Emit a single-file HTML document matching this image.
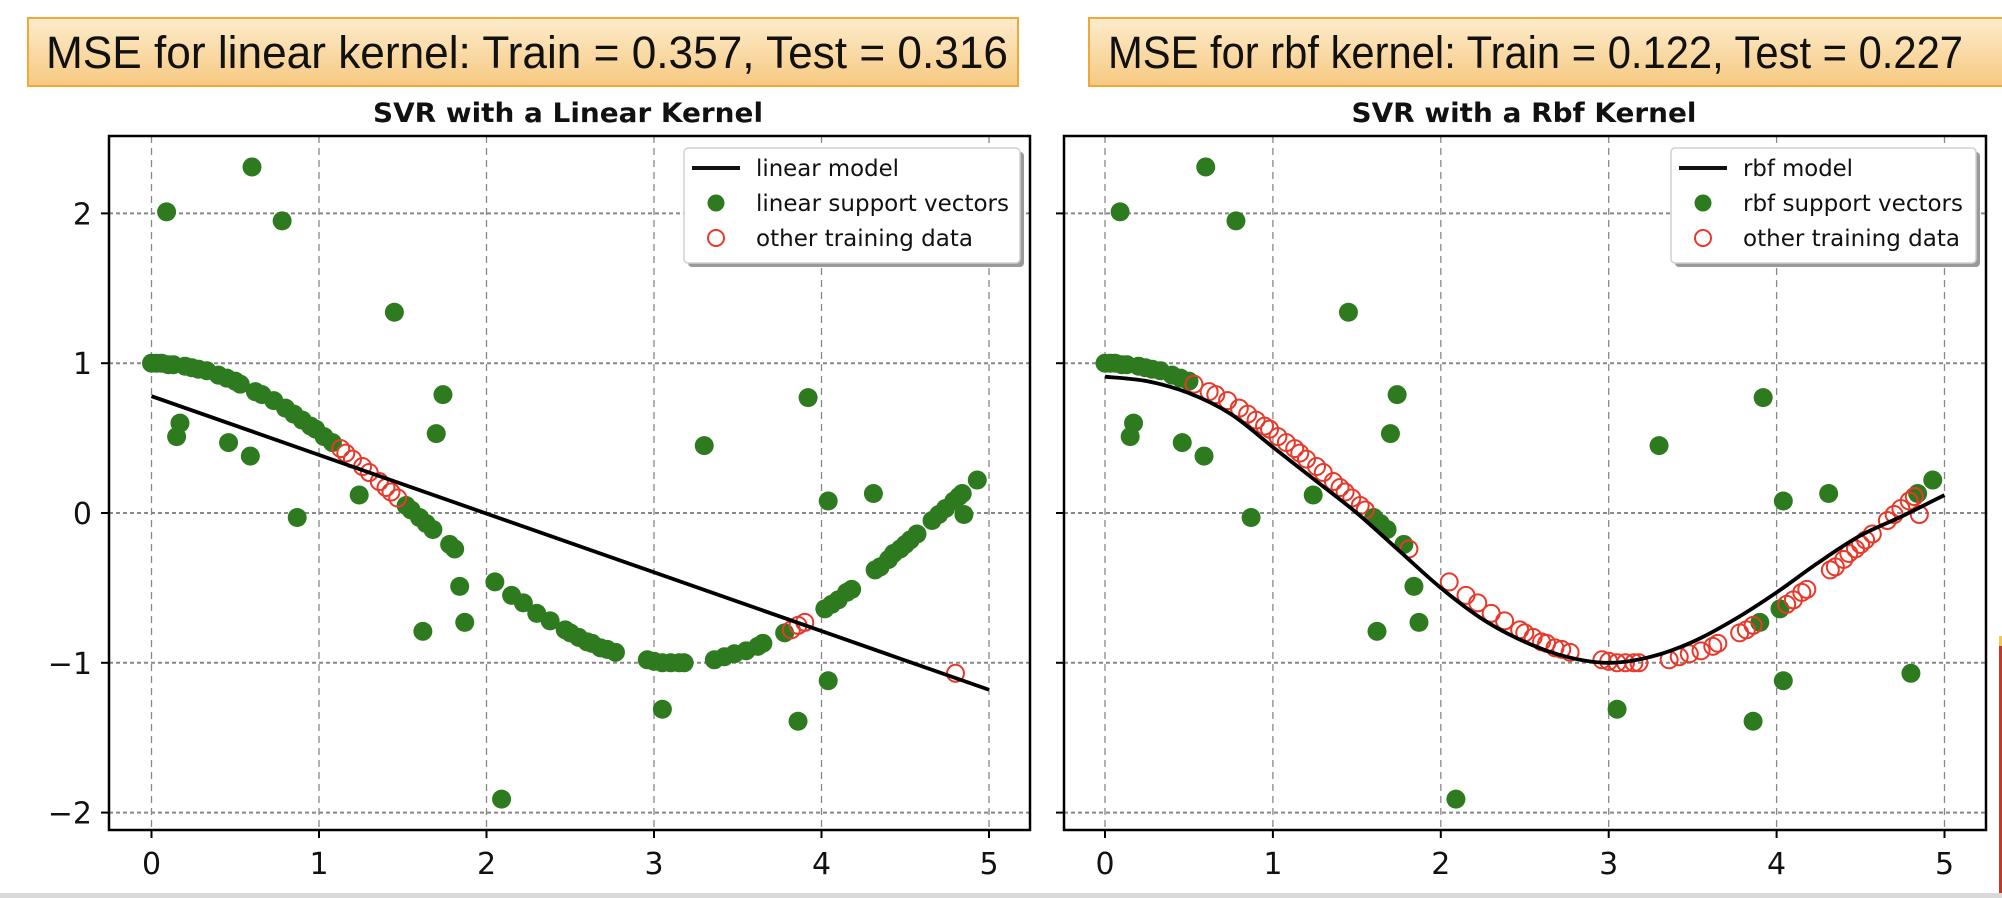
<!DOCTYPE html>
<html><head><meta charset="utf-8"><style>
html,body{margin:0;padding:0;background:#fff;}
svg{display:block;}
</style></head><body>
<svg id="root" width="2002" height="898" viewBox="0 0 2002 898" xmlns="http://www.w3.org/2000/svg">
<defs>
<linearGradient id="boxgrad" x1="0" y1="0" x2="0" y2="1">
<stop offset="0" stop-color="#fdeccc"/><stop offset="1" stop-color="#f6c981"/>
</linearGradient>
<clipPath id="clipL"><rect x="109" y="136" width="921" height="694"/></clipPath>
<clipPath id="clipR"><rect x="1064" y="136" width="922" height="694"/></clipPath>
</defs>
<g>
<rect x="28" y="18" width="990" height="68" fill="url(#boxgrad)" stroke="#f0a83a" stroke-width="2"/>
<text x="46" y="68" font-family="Liberation Sans, sans-serif" font-size="45" fill="#111" textLength="962" lengthAdjust="spacingAndGlyphs">MSE for linear kernel: Train = 0.357, Test = 0.316</text>
</g>
<g>
<rect x="1089" y="18" width="920" height="68" fill="url(#boxgrad)" stroke="#f0a83a" stroke-width="2"/>
<text x="1108" y="68" font-family="Liberation Sans, sans-serif" font-size="45" fill="#111" textLength="855" lengthAdjust="spacingAndGlyphs">MSE for rbf kernel: Train = 0.122, Test = 0.227</text>
</g>
<rect x="1999" y="636" width="3" height="257" fill="#c0392b"/>
<rect x="1999" y="636" width="3" height="10" fill="#f2c94c"/>
<rect x="0" y="893" width="2002" height="5" fill="#d9d9d9"/>
</svg>
<script>
// ---- data ----
const ptX = [0.00,0.03,0.06,0.10,0.13,0.20,0.24,0.28,0.33,0.40,0.45,0.50,0.53,0.62,0.66,0.73,0.80,0.85,0.90,0.95,0.98,1.03,1.08,1.13,1.16,1.20,1.26,1.30,1.36,1.40,1.43,1.47,1.52,1.55,1.60,1.64,1.68,1.78,1.81,2.05,2.15,2.22,2.30,2.38,2.47,2.50,2.55,2.60,2.63,2.68,2.72,2.77,2.96,3.00,3.05,3.10,3.15,3.18,3.36,3.42,3.48,3.55,3.62,3.65,3.78,3.82,3.86,3.90,4.02,4.06,4.10,4.15,4.18,4.32,4.35,4.40,4.43,4.47,4.50,4.53,4.57,4.66,4.70,4.74,4.79,4.82,4.84,4.93,
 0.09,0.60,0.78,1.45,1.74,1.70,3.92,3.30,0.17,0.15,0.46,0.59,0.87,1.24,1.62,1.84,1.87,2.09,3.05,3.86,4.04,4.04,4.31,4.85,4.80];
const ptY = [1.00,1.00,1.00,0.99,0.99,0.98,0.97,0.96,0.95,0.92,0.90,0.88,0.86,0.81,0.79,0.75,0.70,0.66,0.62,0.58,0.56,0.51,0.47,0.43,0.40,0.36,0.31,0.27,0.21,0.17,0.14,0.10,0.05,0.02,-0.03,-0.07,-0.11,-0.21,-0.24,-0.46,-0.55,-0.60,-0.67,-0.72,-0.78,-0.80,-0.83,-0.86,-0.87,-0.90,-0.91,-0.93,-0.98,-0.99,-1.00,-1.00,-1.00,-1.00,-0.98,-0.96,-0.94,-0.92,-0.89,-0.87,-0.80,-0.78,-0.75,-0.73,-0.64,-0.61,-0.58,-0.53,-0.51,-0.38,-0.36,-0.31,-0.27,-0.24,-0.21,-0.18,-0.14,-0.05,-0.01,0.03,0.08,0.11,0.13,0.22,
 2.01,2.31,1.95,1.34,0.79,0.53,0.77,0.45,0.60,0.51,0.47,0.38,-0.03,0.12,-0.79,-0.49,-0.73,-1.91,-1.31,-1.39,-1.12,0.08,0.13,-0.01,-1.07];
// 1 = support vector (green), 0 = other training data (red ring)
const svLinear = [1,1,1,1,1,1,1,1,1,1,1,1,1,1,1,1,1,1,1,1,1,1,1,0,0,0,0,0,0,0,0,0,1,1,1,1,1,1,1,1,1,1,1,1,1,1,1,1,1,1,1,1,1,1,1,1,1,1,1,1,1,1,1,1,1,0,0,0,1,1,1,1,1,1,1,1,1,1,1,1,1,1,1,1,1,1,1,1,
 1,1,1,1,1,1,1,1,1,1,1,1,1,1,1,1,1,1,1,1,1,1,1,1,0];
const svRbf = [1,1,1,1,1,1,1,1,1,1,1,1,0,0,0,0,0,0,0,0,0,0,0,0,0,0,0,0,0,0,0,0,0,0,1,1,1,1,0,0,0,0,0,0,0,0,0,0,0,0,0,0,0,0,0,0,0,0,0,0,0,0,0,0,0,0,0,1,1,0,0,0,0,0,0,0,0,0,0,0,0,0,0,0,0,0,1,1,
 1,1,1,1,1,1,1,1,1,1,1,1,1,1,1,1,1,1,1,1,1,1,1,0,1];
const linearModelX = [0, 5];
const linearModelY = [0.78, -1.18];
const rbfModelX = [0,0.25,0.5,0.75,1.0,1.25,1.5,1.75,2.0,2.25,2.5,2.75,3.0,3.25,3.5,3.75,4.0,4.25,4.5,4.75,5.0];
const rbfModelY = [0.91,0.88,0.80,0.66,0.44,0.22,0.0,-0.25,-0.50,-0.71,-0.86,-0.96,-1.0,-0.96,-0.86,-0.71,-0.53,-0.33,-0.15,-0.02,0.12];
const xTicks = [0,1,2,3,4,5];
const yTicks = [2,1,0,-1,-2];
const yTickLabels = ["2","1","0","\u22121","\u22122"];

const NS = "http://www.w3.org/2000/svg";
const root = document.getElementById("root");
function mk(tag, attrs, parent) {
  const e = document.createElementNS(NS, tag);
  for (const k in attrs) e.setAttribute(k, attrs[k]);
  (parent || root).appendChild(e);
  return e;
}
const GREEN = "#2e7a1f", RED = "#e8392b";

function panel(o) {
  const g = mk("g", {});
  
  
  const sx = v => o.x0 + v * o.ux;
  const sy = v => 513 - v * 149.8;
  const t = mk("text", {x: o.titleX, y: 122, "font-family": "DejaVu Sans, sans-serif", "font-weight": "bold", "font-size": 27, fill: "#111", "text-anchor": "middle", textLength: o.titleW, lengthAdjust: "spacingAndGlyphs"}, g);
  t.textContent = o.title;
  
  
  const grid = mk("g", {}, g);
  
  
  xTicks.forEach(v => {
    const l = mk("line", {x1: sx(v), x2: sx(v), y1: o.top, y2: o.bottom, stroke: "#888", "stroke-width": 1.3, "stroke-dasharray": "7,5"}, grid);
    
    
  });
  yTicks.forEach(v => {
    const l = mk("line", {x1: o.left, x2: o.right, y1: sy(v), y2: sy(v), stroke: "#888", "stroke-width": 2, "stroke-dasharray": "4,3"}, grid);
    
    
  });
  const pts = mk("g", {"clip-path": "url(#" + o.clip + ")"}, g);
  
  
  ptX.forEach((xv, i) => {
    if (!o.sv[i]) return;
    const c = mk("circle", {cx: sx(xv), cy: sy(ptY[i]), r: 9.5, fill: GREEN}, pts);
    
    
  });
  ptX.forEach((xv, i) => {
    if (o.sv[i]) return;
    const c = mk("circle", {cx: sx(xv), cy: sy(ptY[i]), r: 8.5, fill: "none", stroke: RED, "stroke-width": 2}, pts);
    
    
  });
  let d = "";
  const mx = o.modelX, my = o.modelY;
  if (mx.length === 2) {
    d = "M" + sx(mx[0]) + "," + sy(my[0]) + "L" + sx(mx[1]) + "," + sy(my[1]);
  } else {
    const P = mx.map((v, i) => [sx(v), sy(my[i])]);
    d = "M" + P[0][0] + "," + P[0][1];
    for (let i = 0; i < P.length - 1; i++) {
      const p0 = P[Math.max(0, i - 1)], p1 = P[i], p2 = P[i + 1], p3 = P[Math.min(P.length - 1, i + 2)];
      const c1 = [p1[0] + (p2[0] - p0[0]) / 6, p1[1] + (p2[1] - p0[1]) / 6];
      const c2 = [p2[0] - (p3[0] - p1[0]) / 6, p2[1] - (p3[1] - p1[1]) / 6];
      d += "C" + c1[0] + "," + c1[1] + " " + c2[0] + "," + c2[1] + " " + p2[0] + "," + p2[1];
    }
  }
  const ml = mk("path", {d: d, fill: "none", stroke: "#000", "stroke-width": 3.8, "clip-path": "url(#" + o.clip + ")"}, g);
  
  
  const fr = mk("rect", {x: o.left, y: o.top, width: o.right - o.left, height: o.bottom - o.top, fill: "none", stroke: "#000", "stroke-width": 2.5}, g);
  
  
  xTicks.forEach(v => {
    mk("line", {x1: sx(v), x2: sx(v), y1: o.bottom, y2: o.bottom + 8, stroke: "#000", "stroke-width": 2}, g);
    const tl = mk("text", {x: sx(v), y: 874, "font-family": "DejaVu Sans, sans-serif", "font-size": 30, fill: "#111", "text-anchor": "middle"}, g);
    tl.textContent = String(v);
    
    
  });
  yTicks.forEach((v, i) => {
    mk("line", {x1: o.left - 8, x2: o.left, y1: sy(v), y2: sy(v), stroke: "#000", "stroke-width": 2}, g);
    if (o.yLabels) {
      const tl = mk("text", {x: 92, y: sy(v) + 11, "font-family": "DejaVu Sans, sans-serif", "font-size": 30, fill: "#111", "text-anchor": "end"}, g);
      tl.textContent = yTickLabels[i];
      
      
    }
  });
  const lg = mk("g", {}, g);
  
  
  const L = o.legX, W = o.legW;
  mk("rect", {x: L + 4, y: 152, width: W, height: 115, rx: 4, fill: "#9a9a9a"}, lg);
  mk("rect", {x: L, y: 148, width: W, height: 115, rx: 4, fill: "#fff", stroke: "#d0d0d0", "stroke-width": 1.5}, lg);
  const labels = [o.prefix + " model", o.prefix + " support vectors", "other training data"];
  const ys = [168, 203, 238];
  mk("line", {x1: L + 8, x2: L + 56, y1: ys[0], y2: ys[0], stroke: "#111", "stroke-width": 4}, lg);
  mk("circle", {cx: L + 32, cy: ys[1], r: 8.5, fill: GREEN}, lg);
  mk("circle", {cx: L + 32, cy: ys[2], r: 8, fill: "none", stroke: RED, "stroke-width": 2}, lg);
  labels.forEach((s, i) => {
    const tx = mk("text", {x: L + o.textOff, y: ys[i] + 8, "font-family": "DejaVu Sans, sans-serif", "font-size": 23, fill: "#111", textLength: o.textW[i], lengthAdjust: "spacingAndGlyphs"}, lg);
    tx.textContent = s;
    
    
  });
}

panel({name: "linear-kernel-panel", title: "SVR with a Linear Kernel", titleX: 568, titleW: 390,
  x0: 151.5, ux: 167.5, left: 109, right: 1030, top: 136, bottom: 830, clip: "clipL",
  sv: svLinear, modelX: linearModelX, modelY: linearModelY, yLabels: true,
  legX: 684, legW: 336, prefix: "linear", textOff: 72, textW: [143, 253, 217]});
panel({name: "rbf-kernel-panel", title: "SVR with a Rbf Kernel", titleX: 1524, titleW: 345,
  x0: 1105, ux: 167.9, left: 1064, right: 1986, top: 136, bottom: 830, clip: "clipR",
  sv: svRbf, modelX: rbfModelX, modelY: rbfModelY, yLabels: false,
  legX: 1671, legW: 305, prefix: "rbf", textOff: 72, textW: [110, 220, 217]});
</script>
</body></html>
